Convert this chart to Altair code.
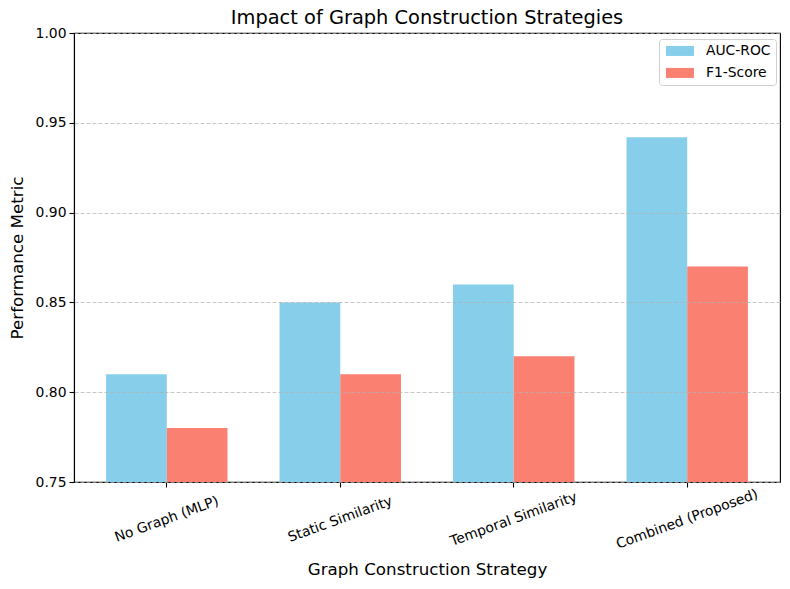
import altair as alt
import pandas as pd

strategies = ["No Graph (MLP)", "Static Similarity", "Temporal Similarity", "Combined (Proposed)"]
auc_roc = [0.81, 0.85, 0.86, 0.942]
f1_score = [0.78, 0.81, 0.82, 0.87]
metrics = ["AUC-ROC", "F1-Score"]
colors = ["#87CEEB", "#FA8072"]
y_ticks = [0.75, 0.80, 0.85, 0.90, 0.95, 1.00]

rows = []
for s, a, f in zip(strategies, auc_roc, f1_score):
    rows.append({"strategy": s, "metric": metrics[0], "value": a})
    rows.append({"strategy": s, "metric": metrics[1], "value": f})
df = pd.DataFrame(rows)

FONT = "DejaVu Sans"

chart = alt.Chart(df).mark_bar(clip=True).encode(
    x=alt.X("strategy:N", sort=strategies,
            scale=alt.Scale(paddingInner=0.3, paddingOuter=0.185),
            axis=alt.Axis(title="Graph Construction Strategy", labelAngle=340,
                          labelAlign="center", labelBaseline="middle",
                          labelPadding=32, titleY=87, titleBaseline="middle",
                          titleFontSize=16.7, titleFontWeight="normal",
                          labelFontSize=13.9, grid=False)),
    xOffset=alt.XOffset("metric:N", sort=metrics, scale=alt.Scale(paddingInner=0, paddingOuter=0)),
    y=alt.Y("value:Q", scale=alt.Scale(domain=[0.75, 1.0], nice=False, zero=False),
            axis=alt.Axis(title="Performance Metric", values=y_ticks, format=".2f",
                          titleX=-57, titleBaseline="middle",
                          titleFontSize=16.7, titleFontWeight="normal",
                          labelFontSize=13.9, labelPadding=3,
                          grid=True, gridDash=[4, 2], gridColor="#b0b0b0",
                          gridOpacity=0.7, zindex=1)),
    color=alt.Color("metric:N", sort=metrics,
                    scale=alt.Scale(domain=metrics, range=colors),
                    legend=alt.Legend(title=None, orient="none", legendX=585, legendY=6,
                                      symbolType="M-1,-1H4.6V1H-1Z", symbolSize=100,
                                      symbolStrokeWidth=0, symbolOpacity=1,
                                      labelFontSize=13.9, labelFont=FONT, labelOffset=28,
                                      rowPadding=7, padding=5, fillColor="white",
                                      strokeColor="#d0d0d0", cornerRadius=3,
                                      labelColor="black")),
).properties(
    width=706, height=449,
    title=alt.TitleParams("Impact of Graph Construction Strategies", fontSize=19.4,
                          fontWeight="normal", font=FONT, offset=0, dy=2, color="black"),
    autosize=alt.AutoSizeParams(type="none"),
    padding={"left": 66, "top": 25, "right": 2, "bottom": 105},
).configure_view(
    stroke="black", strokeWidth=1.1
).configure_axis(
    labelFont=FONT, titleFont=FONT, labelColor="black", titleColor="black",
    domainColor="black", tickColor="black", tickSize=5, domainWidth=1.1, tickWidth=1.1
)

chart.save("out.html", embed_options={"renderer": "svg", "actions": False})
